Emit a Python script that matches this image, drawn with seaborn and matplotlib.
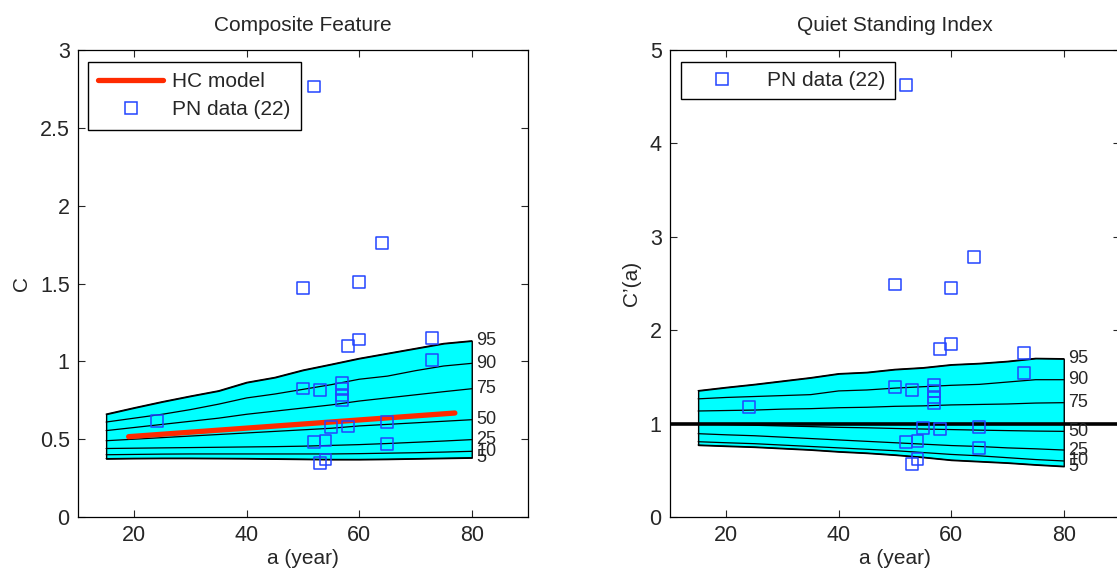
import numpy as np
import pandas as pd
import matplotlib
matplotlib.use("Agg")
import matplotlib.pyplot as plt
import seaborn as sns
from matplotlib.lines import Line2D
from matplotlib.ticker import FuncFormatter

# ---------------- data ----------------
age_grid = [15, 20, 25, 30, 35, 40, 45, 50, 55, 60, 65, 70, 75, 80]
pct_labels = ["95", "90", "75", "50", "25", "10", "5"]

# Composite feature percentile curves (healthy controls)
cf_p95 = [0.661, 0.702, 0.741, 0.777, 0.811, 0.865, 0.897, 0.944, 0.981, 1.019, 1.051, 1.083, 1.115, 1.132]
cf_p90 = [0.610, 0.635, 0.660, 0.690, 0.725, 0.765, 0.790, 0.820, 0.850, 0.885, 0.905, 0.940, 0.970, 0.987]
cf_p75 = [0.555, 0.575, 0.595, 0.615, 0.635, 0.660, 0.680, 0.700, 0.720, 0.745, 0.765, 0.785, 0.805, 0.824]
cf_p50 = [0.490, 0.500, 0.510, 0.520, 0.530, 0.540, 0.550, 0.560, 0.570, 0.585, 0.595, 0.605, 0.615, 0.625]
cf_p25 = [0.440, 0.442, 0.444, 0.446, 0.448, 0.450, 0.452, 0.455, 0.460, 0.465, 0.472, 0.480, 0.488, 0.497]
cf_p10 = [0.400, 0.402, 0.404, 0.405, 0.405, 0.405, 0.405, 0.405, 0.405, 0.407, 0.410, 0.413, 0.417, 0.422]
cf_p05 = [0.375, 0.377, 0.378, 0.378, 0.377, 0.376, 0.374, 0.372, 0.370, 0.370, 0.372, 0.375, 0.378, 0.381]

# Quiet standing index percentile curves
qs_p95 = [1.353, 1.388, 1.420, 1.456, 1.492, 1.535, 1.549, 1.581, 1.599, 1.631, 1.645, 1.667, 1.699, 1.695]
qs_p90 = [1.265, 1.280, 1.290, 1.300, 1.310, 1.350, 1.360, 1.380, 1.395, 1.410, 1.420, 1.445, 1.470, 1.470]
qs_p75 = [1.135, 1.140, 1.145, 1.155, 1.160, 1.170, 1.175, 1.185, 1.190, 1.200, 1.205, 1.210, 1.220, 1.224]
qs_p50 = [0.995, 0.990, 0.982, 0.975, 0.968, 0.960, 0.955, 0.948, 0.942, 0.936, 0.930, 0.925, 0.920, 0.917]
qs_p25 = [0.892, 0.880, 0.870, 0.855, 0.840, 0.825, 0.810, 0.795, 0.780, 0.765, 0.755, 0.740, 0.730, 0.717]
qs_p10 = [0.806, 0.795, 0.785, 0.770, 0.755, 0.740, 0.725, 0.710, 0.690, 0.670, 0.655, 0.635, 0.615, 0.600]
qs_p05 = [0.771, 0.760, 0.750, 0.735, 0.720, 0.700, 0.685, 0.665, 0.640, 0.610, 0.595, 0.580, 0.560, 0.543]

# HC model line
hc_age = [19, 77]
hc_c = [0.516, 0.668]

# PN data
pn_age = [24, 50, 53, 57, 57, 57, 57, 58, 60, 73, 73, 55, 58, 65, 52, 54, 65, 54, 53, 52, 50, 60, 64]
pn_c = [0.618, 0.826, 0.816, 0.86, 0.82, 0.78, 0.75, 1.10, 1.14, 1.148, 1.01, 0.578, 0.582, 0.608,
        0.484, 0.492, 0.469, 0.37, 0.345, 2.766, 1.473, 1.509, 1.758]
pn_cprime = [1.18, 1.395, 1.36, 1.41, 1.35, 1.28, 1.22, 1.795, 1.849, 1.752, 1.545, 0.95, 0.942, 0.96,
             0.806, 0.814, 0.742, 0.618, 0.567, 4.625, 2.49, 2.449, 2.787]

x_ticks = [20, 40, 60, 80]
cf_yticks = [0, 0.5, 1, 1.5, 2, 2.5, 3]
qs_yticks = [0, 1, 2, 3, 4, 5]

# ---------------- style ----------------
sns.set_style("ticks")
plt.rcParams["font.family"] = ["Liberation Sans", "DejaVu Sans"]
plt.rcParams["font.size"] = 15

FS = 15
CYAN = "#00ffff"
BLUE = "#2244ff"
RED = "#ff2a00"

fig = plt.figure(figsize=(11.17, 5.80), dpi=100)
ax1 = fig.add_axes([78 / 1117, 63 / 580, 450 / 1117, 467 / 580])
ax2 = fig.add_axes([670 / 1117, 63 / 580, 450 / 1117, 467 / 580])


def draw_band(ax, curves):
    df = pd.DataFrame({
        "age": np.tile(age_grid, len(curves)),
        "value": np.concatenate(curves),
        "pct": np.repeat(pct_labels, len(age_grid)),
    })
    ax.fill_between(age_grid, curves[-1], curves[0], facecolor=CYAN,
                    edgecolor="black", linewidth=1.0, zorder=1)
    sns.lineplot(data=df, x="age", y="value", units="pct", estimator=None,
                 color="black", linewidth=0.9, ax=ax, zorder=2, legend=False)
    for lab, c in zip(pct_labels, curves):
        ax.text(80.8, c[-1], lab, fontsize=13, ha="left", va="center", zorder=5)


def style_axes(ax, ylim, yticks, ylabel, title):
    ax.set_xlim(10, 90)
    ax.set_ylim(*ylim)
    ax.set_xticks(x_ticks)
    ax.set_yticks(yticks)
    ax.yaxis.set_major_formatter(FuncFormatter(lambda v, p: f"{v:g}"))
    ax.tick_params(direction="in", length=5, width=0.8, top=True, right=True,
                   labelsize=15.5, pad=6)
    for s in ax.spines.values():
        s.set_visible(True)
        s.set_linewidth(0.9)
        s.set_color("black")
    ax.set_xlabel("a (year)", fontsize=FS, labelpad=2)
    ax.set_ylabel(ylabel, fontsize=FS, labelpad=6)
    ax.set_title(title, fontsize=FS, pad=14)


# ---- left panel ----
draw_band(ax1, [cf_p95, cf_p90, cf_p75, cf_p50, cf_p25, cf_p10, cf_p05])
sns.lineplot(x=hc_age, y=hc_c, color=RED, linewidth=3.8, ax=ax1, zorder=3)
sns.scatterplot(x=pn_age, y=pn_c, marker="s", s=72, facecolor="none",
                edgecolor=BLUE, linewidth=1.1, ax=ax1, zorder=4)
style_axes(ax1, (0, 3), cf_yticks, "C", "Composite Feature")
h1 = [Line2D([], [], color=RED, lw=3.8),
      Line2D([], [], ls="none", marker="s", ms=8, mfc="none", mec=BLUE, mew=1.1)]
leg1 = ax1.legend(h1, ["HC model", "PN data (22)"], loc="upper left",
                  bbox_to_anchor=(0.022, 0.975), fontsize=FS, frameon=True,
                  fancybox=False, edgecolor="black", framealpha=1,
                  handlelength=3.1, handletextpad=0.45, borderpad=0.5,
                  labelspacing=0.45, borderaxespad=0)
leg1.get_frame().set_linewidth(1.0)

# ---- right panel ----
draw_band(ax2, [qs_p95, qs_p90, qs_p75, qs_p50, qs_p25, qs_p10, qs_p05])
ax2.axhline(1, color="black", linewidth=2.6, zorder=3)
sns.scatterplot(x=pn_age, y=pn_cprime, marker="s", s=72, facecolor="none",
                edgecolor=BLUE, linewidth=1.1, ax=ax2, zorder=4)
style_axes(ax2, (0, 5), qs_yticks, "C\u2019(a)", "Quiet Standing Index")
h2 = [Line2D([], [], ls="none", marker="s", ms=8, mfc="none", mec=BLUE, mew=1.1)]
leg2 = ax2.legend(h2, ["PN data (22)"], loc="upper left",
                  bbox_to_anchor=(0.024, 0.975), fontsize=FS, frameon=True,
                  fancybox=False, edgecolor="black", framealpha=1,
                  handlelength=3.1, handletextpad=0.6, borderpad=0.45,
                  borderaxespad=0)
leg2.get_frame().set_linewidth(1.0)

fig.savefig("out.png", dpi=100, facecolor="white")
